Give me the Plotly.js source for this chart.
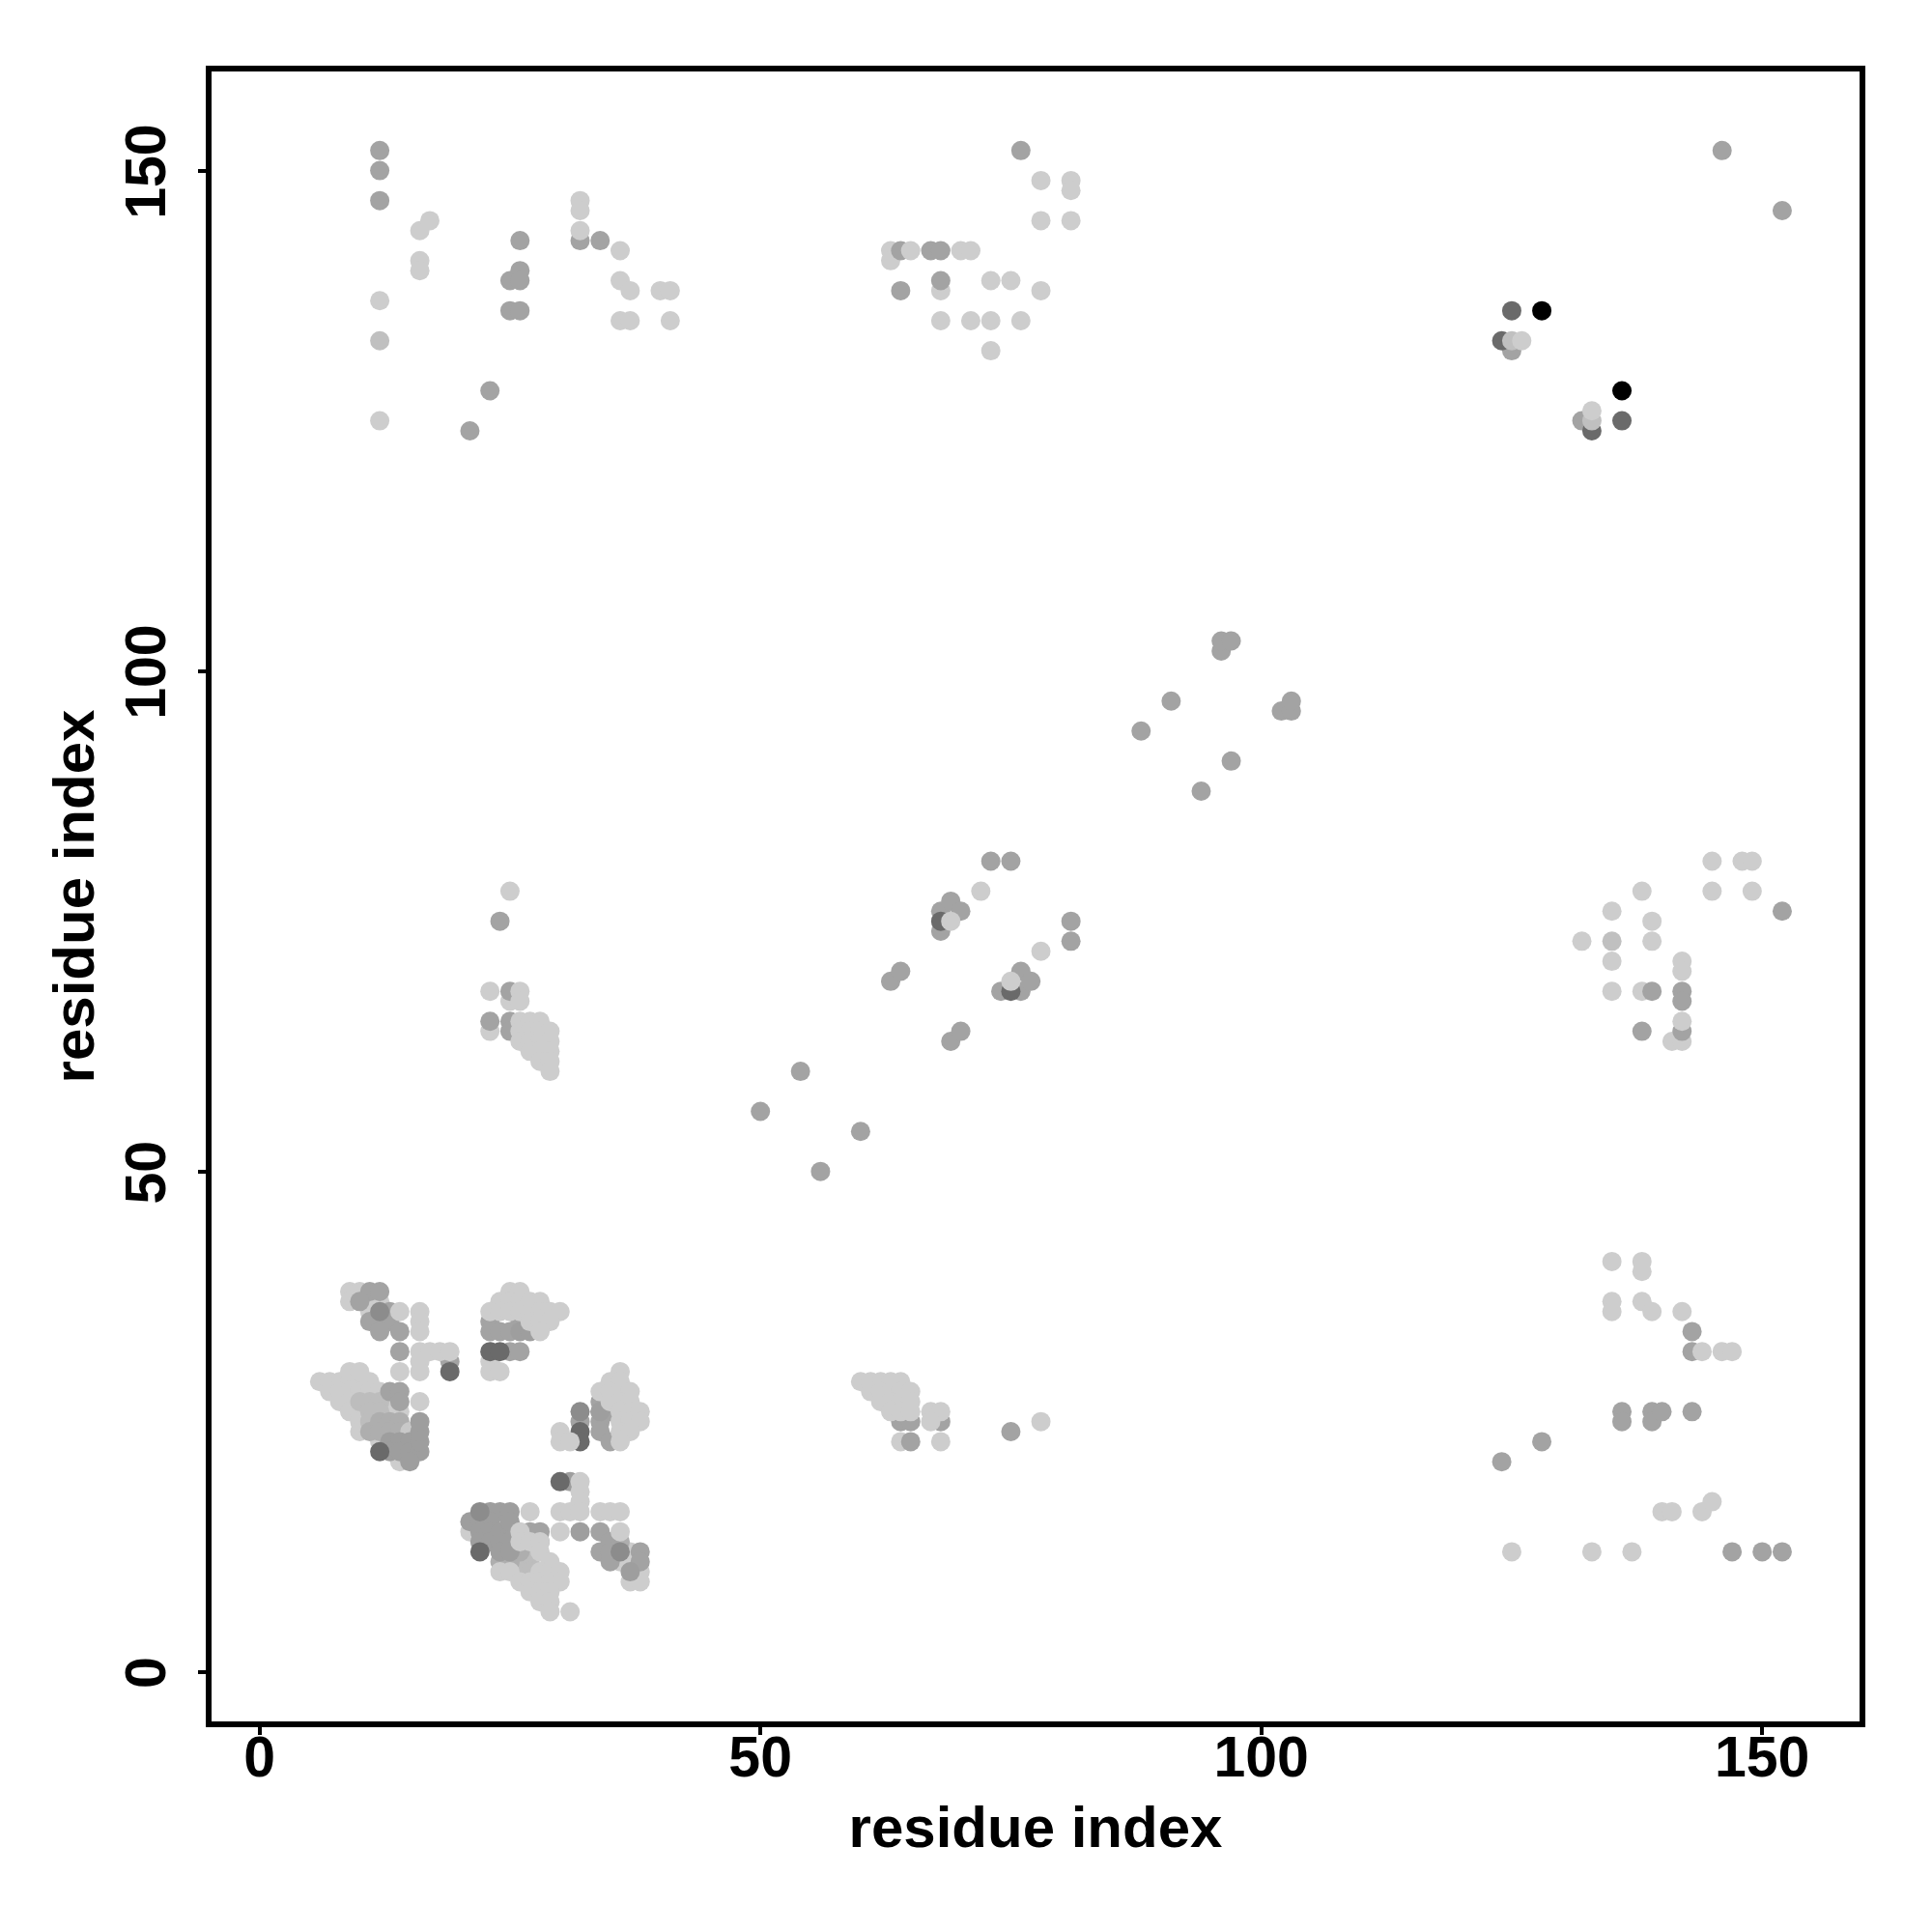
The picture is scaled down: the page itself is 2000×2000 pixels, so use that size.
<!DOCTYPE html>
<html>
<head>
<meta charset="utf-8">
<script src="https://cdn.plot.ly/plotly-3.0.1.min.js"></script>
<style>html,body{margin:0;padding:0;background:#fff}</style>
</head>
<body>
<div id="chart" style="width:2000px;height:2000px"></div>
<script>
// Contacts, one pair of arrays per grey level / drawing layer.
const underLightX = [9,10,9,11,12,11, 6,7,8,9,10,11, 7,8,9,10,11,12, 8,9,13, 9,10,13,14, 10,10, 12,14, 63,63,68,138,141,142,64,23,25,23,23,24,21,37,37,38,37,38,36];
const underLightY = [38,38,37,37,37,36, 29,29,29,29,29,29, 28,28,28,28,28,28, 27,27,27, 26,26,26,26, 25,24, 23,21, 142,141,138,68,63,63,23,64,67,31,30,30,14,12,11,10,9,9,11];

const shadeLightX = [10,11,12,11,12,11, 26,27,27,26,27];
const shadeLightY = [27,27,27,26,26,25, 11,11,12,10,10];

const shadeMidX = [11,12,13,14,12,13,14, 24,25,26, 36];
const shadeMidY = [24,25,25,25,24,24,24, 11,11,12, 13];

const midX = [12,12,12,26,26,25,26,25,26,23,21,32,34, 76,64,67,68,64,68, 146,152,125,132,
  50,54,56,60,63,64,68,68,69,70,73,75,81,81,69,70,74,76,76,77,88,91,94,97,96,96,97,102,103,103,
  24,25,23,25,25, 139,142,142,142,138,152,
  124,128,136,136,139,139,140,143,143,143,147,150,152, 64,65,68,65,75,
  11,12,10,13,12,13,11,12,14,14,13,14,14,19,
  23,26,23,24,25,25,26,
  34,35,34,34,34,35,32,
  27,28,28, 34,35,34,35,35,38,38];
const midY = [152,150,147,143,140,139,139,136,136,128,124,143,143, 152,142,142,142,138,139, 152,146,132,125,
  56,60,50,54,69,70,74,76,77,76,81,81,75,73,63,64,68,68,70,69,94,97,88,91,102,103,103,96,96,97,
  75,68,65,65,64, 68,68,67,64,64,76,
  21,23,26,25,26,25,26,26,34,32,12,12,12, 25,25,25,23,24,
  38,38,37,36,35,35,35,34,34,32,28,28,27,31,
  35,35,34,34,34,32,32,
  27,26,26,25,24,23,25,
  14,14,13, 14,13,12,12,11,12,11];

const innerLightX = [15,24];
const innerLightY = [24,15];

const midDarkX = [13,14,15,13,14,15,16,15,16,16,16, 26,27, 34, 23,24,21,22,23,22,23,24,25,22,23,24,25,24,25,25,25,31,32, 37];
const midDarkY = [23,23,23,22,22,22,22,21,23,24,25, 34,34, 26, 16,16,15,15,15,14,14,14,14,13,13,13,13,12,12,16,15,19,14, 10];

const deepGreyX = [12,32,36,22];
const deepGreyY = [36,26,12,16];

const darkX = [124,133, 125,136,19,12,68,75,23,24,32,32,22,30];
const darkY = [133,124, 136,125,30,22,75,68,32,32,24,23,12,19];

const blackX = [128,136];
const blackY = [136,128];

const topShadeX = [125,133,12,135];
const topShadeY = [133,125,133,73];

const topLightX = [16,17,16,16,12,12,32,32,32,36,36,37,40,41,36,37,41,
  65,70,71,78,81,81,78,81,73,75,78,68,71,73,76,73,
  69,72,78,75,126,133,
  25,23,26,26,26,27,28,26,27,28,29,26,27,28,29,27,28,29,28,29,29,
  145,148,149,145,149,138,135,139,132,139,135,142,142,135,142,
  135,138,138,135,135,138,139,142,144,146,147,140,141,144,145,125,133,137,
  60,61,62,63,64,61,62,63,64,65,62,63,64,65,63,64,65,67,68,67,68,78,
  14,16,16,16,16,17,18,19,16,16,14,9,10,16,
  25,26,24,25,26,27,28,23,24,25,26,27,28,29,30,27,28,29,28,
  36,35,36,34,35,36,37,35,36,37,36,37,38,36,37,38,36,37,36,30,30,31,
  32,32,32,30,31,32,34,35,36,27,30,36,31,
  26,26,27,28,28,29,24,25,28,29,30,26,27,28,29,30,27,28,29,28,29,29];
const topLightY = [144,145,141,140,137,125,147,146,144,142,139,138,138,138,135,135,135,
  142,142,142,149,149,148,145,145,139,139,138,135,135,135,135,132,
  75,78,72,69,133,126,
  78,68,68,67,65,65,65,64,64,64,64,63,63,63,63,62,62,62,61,61,60,
  81,81,81,78,78,78,76,75,73,73,71,71,70,68,65,
  41,41,40,37,36,37,36,36,32,32,32,16,16,16,17,12,12,12,
  29,29,29,29,29,28,28,28,28,28,27,27,27,27,26,26,26,26,26,25,23,25,
  36,36,35,34,32,32,32,32,31,30,30,30,30,27,
  38,38,37,37,37,37,37,36,36,36,36,36,36,36,36,35,35,35,34,
  30,29,29,28,28,28,28,27,27,27,26,26,26,25,25,25,24,24,23,24,23,23,
  19,18,17,16,16,16,16,16,16,16,14,14,6,
  14,13,13,13,12,11,10,10,10,10,10,9,9,9,9,9,8,8,8,7,7,6];

const tickValues = [0,50,100,150];
const axisTitle = 'residue index';

const layers = [
  [underLightX, underLightY, '#cdcdcd'],
  [shadeLightX, shadeLightY, '#bdbdbd'],
  [shadeMidX, shadeMidY, '#aeaeae'],
  [midX, midY, '#a3a3a3'],
  [innerLightX, innerLightY, '#c8c8c8'],
  [midDarkX, midDarkY, '#9e9e9e'],
  [deepGreyX, deepGreyY, '#8c8c8c'],
  [darkX, darkY, '#6a6a6a'],
  [blackX, blackY, '#000000'],
  [topShadeX, topShadeY, '#c0c0c0'],
  [topLightX, topLightY, '#cdcdcd']
];
const traces = layers.map(l => ({
  type: 'scatter', mode: 'markers', x: l[0], y: l[1],
  marker: {size: 20, color: l[2], line: {width: 0}},
  hoverinfo: 'x+y', cliponaxis: true
}));
const titleFont = {family: '"Liberation Sans", Arial, sans-serif', size: 60, color: '#000', weight: 700};
const tickFont = {family: '"Liberation Sans", Arial, sans-serif', size: 59, color: '#000', weight: 700};
const axis = {
  tickmode: 'array', tickvals: tickValues,
  ticks: 'outside', ticklen: 8, tickwidth: 4, tickcolor: '#000',
  showline: true, linewidth: 6, linecolor: '#000', mirror: true,
  showgrid: false, zeroline: false, tickfont: tickFont, automargin: false
};
Plotly.newPlot('chart', traces, {
  width: 2000, height: 2000, showlegend: false,
  paper_bgcolor: '#fff', plot_bgcolor: '#fff',
  margin: {l: 219, r: 75, t: 74, b: 218, pad: 0},
  xaxis: Object.assign({}, axis, {range: [-4.79, 159.72], ticktext: tickValues.map(String),
    ticklabelstandoff: -28, title: {text: axisTitle, font: titleFont, standoff: 21}}),
  yaxis: Object.assign({}, axis, {range: [-4.95, 159.9], tickangle: -90, ticklabelstandoff: 10,
    ticktext: tickValues.map(v => v + '\u2004'), title: {text: axisTitle, font: titleFont, standoff: 3}})
}, {displayModeBar: false});
</script>
</body>
</html>
